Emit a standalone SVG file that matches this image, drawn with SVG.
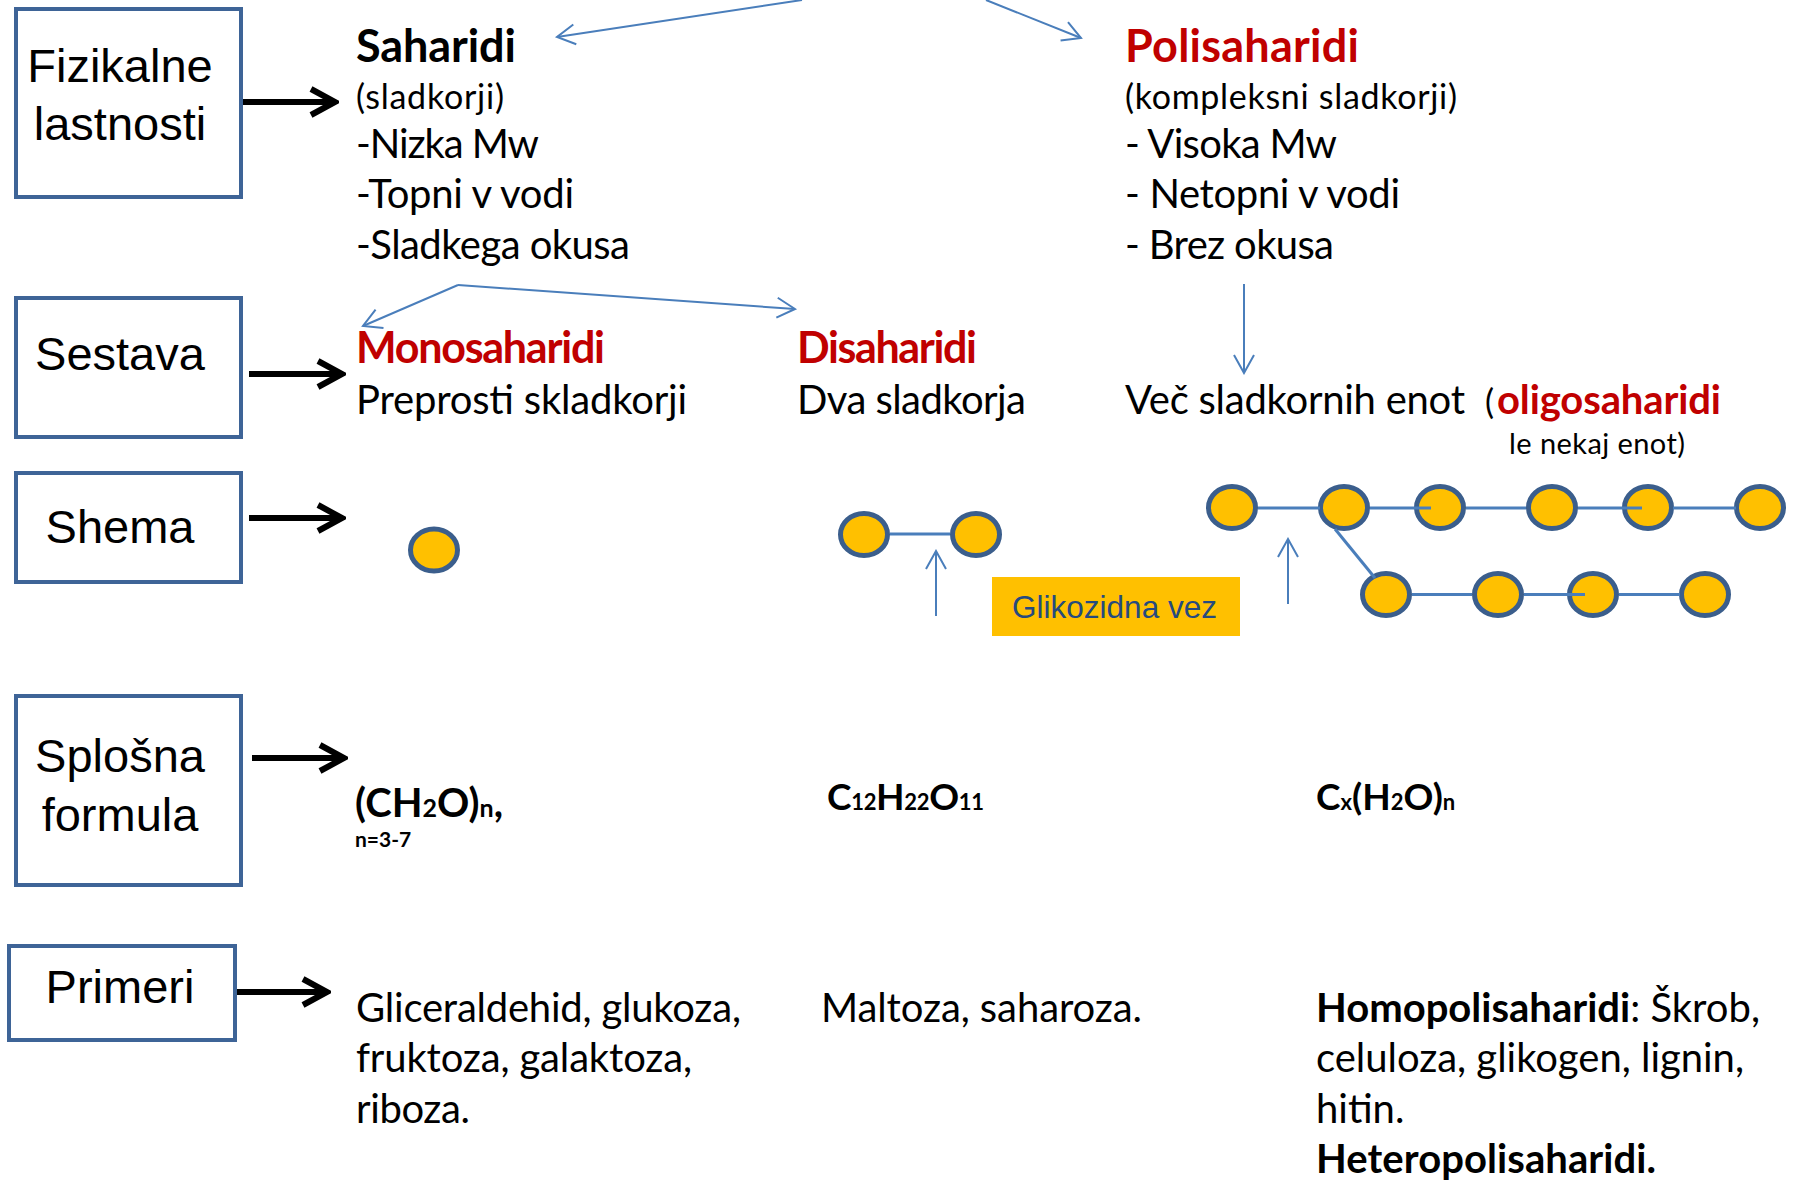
<svg xmlns="http://www.w3.org/2000/svg" width="1794" height="1182" viewBox="0 0 1794 1182">
<style>
.box{fill:#fff;stroke:#3E6497;stroke-width:4}
.bt{font-family:"Liberation Sans",Arial,sans-serif;font-size:47px;fill:#000;text-anchor:middle}
.t{font-family:Lato,"Open Sans",sans-serif;font-size:40px;fill:#000}
.s{font-size:34px}
.h{font-family:Lato,"Open Sans",sans-serif;font-size:43px;font-weight:bold;fill:#C00000}
.hb{fill:#000}
.b{font-weight:bold}
.f{font-family:Lato,"Open Sans",sans-serif;font-weight:bold;fill:#000}
.sug{fill:#FFC000;stroke:#3B5E8C;stroke-width:5}
.bond{stroke:#4A7EBB;stroke-width:3;fill:none}
.blk{stroke:#000;stroke-width:6;fill:none;marker-end:url(#ah)}
.blu{stroke:#4A7EBB;stroke-width:2;fill:none;marker-end:url(#bh)}
</style>
<defs>
<marker id="ah" markerUnits="userSpaceOnUse" viewBox="0 0 32 32" markerWidth="32" markerHeight="32" refX="28" refY="16" orient="auto">
<path d="M4,3 L28,16 L4,29" fill="none" stroke="#000" stroke-width="6"/>
</marker>
<marker id="bh" markerUnits="userSpaceOnUse" viewBox="0 0 22 24" markerWidth="22" markerHeight="24" refX="20" refY="12" orient="auto">
<path d="M2,2 L20,12 L2,22" fill="none" stroke="#4A7EBB" stroke-width="2"/>
</marker>
</defs>
<rect width="1794" height="1182" fill="#fff"/>

<g id="box-fizikalne"><rect class="box" x="16" y="9" width="225" height="188"/><text class="bt" x="120" y="82">Fizikalne</text><text class="bt" x="120" y="140">lastnosti</text></g>
<g id="box-sestava"><rect class="box" x="16" y="298" width="225" height="139"/><text class="bt" x="120" y="370">Sestava</text></g>
<g id="box-shema"><rect class="box" x="16" y="473" width="225" height="109"/><text class="bt" x="120" y="543">Shema</text></g>
<g id="box-splosna"><rect class="box" x="16" y="696" width="225" height="189"/><text class="bt" x="120" y="772">Splošna</text><text class="bt" x="120" y="831">formula</text></g>
<g id="box-primeri"><rect class="box" x="9" y="946" width="226" height="94"/><text class="bt" x="120" y="1003">Primeri</text></g>

<g id="saharidi">
<text class="h hb" x="356" y="62" style="font-size:45px" textLength="160">Saharidi</text>
<text class="t s" x="356" y="109" textLength="148">(sladkorji)</text>
<text class="t" x="356" y="158" textLength="183">-Nizka Mw</text>
<text class="t" x="356" y="208" textLength="218">-Topni v vodi</text>
<text class="t" x="356" y="259" textLength="274">-Sladkega okusa</text>
</g>
<g id="polisaharidi">
<text class="h" x="1125" y="62" style="font-size:45px" textLength="234">Polisaharidi</text>
<text class="t s" x="1125" y="109" textLength="332">(kompleksni sladkorji)</text>
<text class="t" x="1125" y="158" textLength="212">- Visoka Mw</text>
<text class="t" x="1125" y="208" textLength="275">- Netopni v vodi</text>
<text class="t" x="1125" y="259" textLength="209">- Brez okusa</text>
</g>
<g id="monosaharidi">
<text class="h" x="356" y="363" textLength="249">Monosaharidi</text>
<text class="t" x="356" y="414" textLength="331">Preprosti skladkorji</text>
</g>
<g id="disaharidi">
<text class="h" x="797" y="363" textLength="180">Disaharidi</text>
<text class="t" x="797" y="414" textLength="229">Dva sladkorja</text>
</g>
<g id="vec">
<text class="t" x="1125" y="414" textLength="340">Več sladkornih enot</text>
<text class="t s" x="1485" y="414">(</text>
<text class="h" style="font-size:40px" x="1497" y="414" textLength="224">oligosaharidi</text>
<text class="t" style="font-size:29px" x="1509" y="454" textLength="176">le nekaj enot)</text>
</g>

<g id="mono-schema"><ellipse class="sug" cx="434" cy="550" rx="23.5" ry="21"/></g>
<g id="di-schema"><ellipse class="sug" cx="864" cy="534.5" rx="23.5" ry="21"/><ellipse class="sug" cx="976" cy="534.5" rx="23.5" ry="21"/></g>
<g id="poly-schema">
<ellipse class="sug" cx="1232" cy="507.5" rx="23.5" ry="21"/>
<ellipse class="sug" cx="1344" cy="507.5" rx="23.5" ry="21"/>
<ellipse class="sug" cx="1440" cy="507.5" rx="23.5" ry="21"/>
<ellipse class="sug" cx="1552" cy="507.5" rx="23.5" ry="21"/>
<ellipse class="sug" cx="1648" cy="507.5" rx="23.5" ry="21"/>
<ellipse class="sug" cx="1760" cy="507.5" rx="23.5" ry="21"/>
<ellipse class="sug" cx="1386" cy="594.5" rx="23.5" ry="21"/>
<ellipse class="sug" cx="1498" cy="594.5" rx="23.5" ry="21"/>
<ellipse class="sug" cx="1593" cy="594.5" rx="23.5" ry="21"/>
<ellipse class="sug" cx="1705" cy="594.5" rx="23.5" ry="21"/>
</g>
<g id="glikozidna"><rect x="992" y="577" width="248" height="59" fill="#FFC000"/><text x="1012" y="618" font-family="Liberation Sans, Arial, sans-serif" font-size="31.5" fill="#264A7E" textLength="205">Glikozidna vez</text></g>

<g id="formula-mono" class="f">
<text x="355" y="817" font-size="40">(CH<tspan font-size="25">2</tspan>O)<tspan font-size="25">n</tspan>,</text>
<text x="355" y="847" font-size="21">n=3-7</text>
</g>
<g id="formula-di" class="f"><text x="827" y="810" font-size="37" textLength="157">C<tspan font-size="22">12</tspan>H<tspan font-size="22">22</tspan>O<tspan font-size="22">11</tspan></text></g>
<g id="formula-poly" class="f"><text x="1316" y="810" font-size="37">C<tspan font-size="22">x</tspan>(H<tspan font-size="22">2</tspan>O)<tspan font-size="22">n</tspan></text></g>

<g id="primeri-mono">
<text class="t" x="356" y="1022" textLength="385">Gliceraldehid, glukoza,</text>
<text class="t" x="356" y="1072" textLength="336">fruktoza, galaktoza,</text>
<text class="t" x="356" y="1123" textLength="114">riboza.</text>
</g>
<g id="primeri-di"><text class="t" x="821" y="1022" textLength="321">Maltoza, saharoza.</text></g>
<g id="primeri-poly">
<text class="t" x="1316" y="1022" textLength="444"><tspan class="b">Homopolisaharidi</tspan>: Škrob,</text>
<text class="t" x="1316" y="1072" textLength="428">celuloza, glikogen, lignin,</text>
<text class="t" x="1316" y="1123">hitin.</text>
<text class="t b" x="1316" y="1173" textLength="340">Heteropolisaharidi.</text>
</g>

<g id="connectors">
<path class="blk" d="M243,102 H335"/>
<path class="blk" d="M249,374 H342"/>
<path class="blk" d="M249,518 H342"/>
<path class="blk" d="M252,758 H344"/>
<path class="blk" d="M237,992 H327"/>
<path class="blu" d="M802,0 L557,37"/>
<path class="blu" d="M986,0 L1081,38"/>
<path class="blu" d="M458,285 L363,326"/>
<path class="blu" d="M458,285 L795,309"/>
<path class="blu" d="M1244,284 V373"/>
<path class="blu" d="M936,616 V551"/>
<path class="blu" d="M1288,604 V539"/>
<path class="bond" d="M890,534 H950"/>
<path class="bond" d="M1258,508 H1320 M1370,508 H1431 M1466,508 H1526 M1578,508 H1642 M1673,508 H1736"/>
<path class="bond" d="M1412,594.5 H1472 M1524,594.5 H1585 M1619,594.5 H1680"/>
<path class="bond" d="M1335,529 L1375,578"/>
</g>
</svg>
